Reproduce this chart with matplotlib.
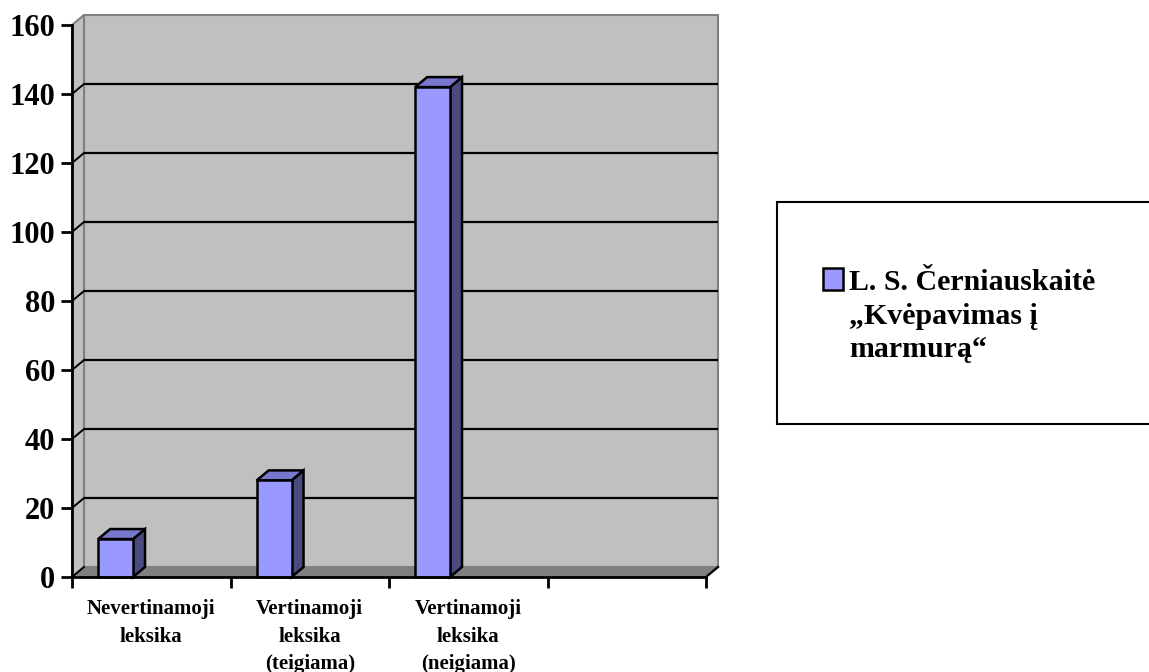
import matplotlib
matplotlib.use("Agg")
import matplotlib.pyplot as plt
from matplotlib.patches import Polygon, Rectangle
from matplotlib.transforms import IdentityTransform, ScaledTranslation
import numpy as np

# ---- data ----
categories = ["Nevertinamoji\nleksika", "Vertinamoji\nleksika\n(teigiama)",
              "Vertinamoji\nleksika\n(neigiama)", ""]
values = [11, 28, 142]
series_name = "L. S. Černiauskaitė\n„Kvėpavimas į\nmarmurą“"
y_ticks = [0, 20, 40, 60, 80, 100, 120, 140, 160]

# ---- style ----
FONT = "Liberation Serif"
W, H = 1149, 672
DPI = 100
DX, DY = 12, 10          # 3D depth offset in pixels
WALL = "#C0C0C0"
FLOOR = "#808080"
EDGE = "#808080"
FRONT = "#9999FF"
TOP = "#7777CC"
SIDE = "#4B4B80"

fig = plt.figure(figsize=(W / DPI, H / DPI), dpi=DPI)
fig.patch.set_facecolor("white")
ax = fig.add_axes([72 / W, (H - 577) / H, (706 - 72) / W, (577 - 25) / H])
ax.set_facecolor("none")
nslots = len(categories)
ax.set_xlim(0, nslots)
ax.set_ylim(0, 160)

ident = IdentityTransform()
back = ax.transData + ScaledTranslation(DX / DPI, DY / DPI, fig.dpi_scale_trans)


def P(x, y, d=0.0):
    px, py = ax.transData.transform((x, y))
    return (px + d * DX, py + d * DY)


# back wall
ax.add_patch(Rectangle((0, 0), nslots, 160, transform=back, facecolor=WALL,
                       edgecolor=EDGE, lw=1.5, zorder=0, clip_on=False))
# left side wall
ax.add_patch(Polygon([P(0, 0), P(0, 160), P(0, 160, 1), P(0, 0, 1)], closed=True,
                     transform=ident, facecolor=WALL, edgecolor=EDGE, lw=1.5,
                     zorder=0.5, clip_on=False))
# floor
ax.add_patch(Polygon([P(0, 0), P(nslots, 0), P(nslots, 0, 1), P(0, 0, 1)], closed=True,
                     transform=ident, facecolor=FLOOR, edgecolor=EDGE, lw=1.0,
                     zorder=0.6, clip_on=False))

# gridlines on back wall + diagonal connectors on side wall
for t in y_ticks[1:-1]:
    ax.plot([0, nslots], [t, t], color="black", lw=1.6, transform=back,
            zorder=1, clip_on=False, solid_capstyle="butt")
for t in y_ticks[:-1]:
    a, b = P(0, t), P(0, t, 1)
    ax.plot([a[0], b[0]], [a[1], b[1]], color="black", lw=1.4, transform=ident,
            zorder=1, clip_on=False)
# right end diagonal of floor
a, b = P(nslots, 0), P(nslots, 0, 1)
ax.plot([a[0], b[0]], [a[1], b[1]], color="black", lw=1.6, transform=ident,
        zorder=3, clip_on=False)

# bars (front face via ax.bar, depth faces added)
bar_w = 0.22
lefts = [i + 0.165 for i in range(len(values))]
bars = ax.bar(lefts, values, width=bar_w, align="edge", color=FRONT,
              edgecolor="black", lw=1.8, zorder=2.2, clip_on=False)
for x0, v in zip(lefts, values):
    x1 = x0 + bar_w
    top = [P(x0, v), P(x1, v), P(x1, v, 1), P(x0, v, 1)]
    side = [P(x1, 0), P(x1, v), P(x1, v, 1), P(x1, 0, 1)]
    ax.add_patch(Polygon(side, closed=True, transform=ident, facecolor=SIDE,
                         edgecolor="black", lw=1.8, zorder=2.1, clip_on=False,
                         joinstyle="miter"))
    ax.add_patch(Polygon(top, closed=True, transform=ident, facecolor=TOP,
                         edgecolor="black", lw=1.8, zorder=2.1, clip_on=False,
                         joinstyle="miter"))

# axes / ticks
for s in ["top", "right"]:
    ax.spines[s].set_visible(False)
for s in ["left", "bottom"]:
    ax.spines[s].set_color("black")
    ax.spines[s].set_linewidth(2)
    ax.spines[s].set_zorder(3)
ax.set_yticks(y_ticks)
ax.set_yticklabels([str(t) for t in y_ticks], fontsize=22, fontweight="bold",
                   family=FONT)
ax.tick_params(axis="y", length=8, width=2, pad=4, direction="out")
ax.set_xticks(np.arange(nslots + 1))
ax.set_xticklabels([])
ax.tick_params(axis="x", which="major", length=8, width=2, direction="out")
ax.set_xticks(np.arange(nslots) + 0.5, minor=True)
ax.set_xticklabels(categories, minor=True, fontsize=15, fontweight="bold",
                   family=FONT, linespacing=1.5)
ax.tick_params(axis="x", which="minor", length=0, pad=16)

# legend box (manual)
fig.patches.append(Rectangle((777 / W, (H - 424) / H), (1160 - 777) / W, (424 - 202) / H,
                             transform=fig.transFigure, facecolor="white",
                             edgecolor="black", lw=1.5, zorder=5))
fig.patches.append(Rectangle((823 / W, (H - 290) / H), 20 / W, 22 / H,
                             transform=fig.transFigure, facecolor=FRONT,
                             edgecolor="black", lw=1.8, zorder=6))
fig.text(849 / W, (H - 269) / H, series_name, fontsize=21.5, fontweight="bold",
         family=FONT, va="top", ha="left", linespacing=1.32, zorder=7)

fig.savefig("out.png", dpi=DPI)
